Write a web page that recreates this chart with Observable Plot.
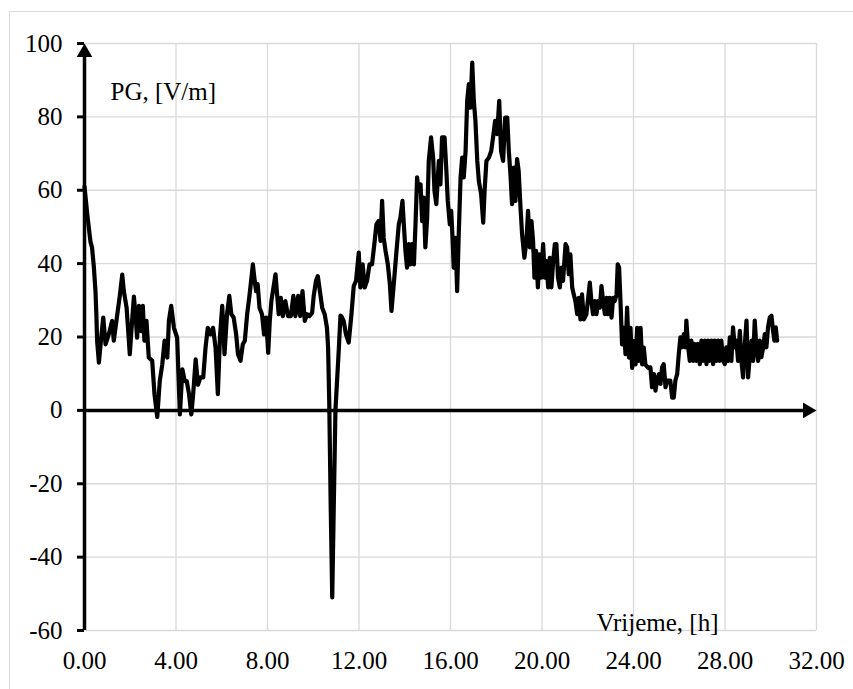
<!DOCTYPE html>
<html><head><meta charset="utf-8">
<script src="https://cdn.jsdelivr.net/npm/d3@7"></script>
<script src="https://cdn.jsdelivr.net/npm/@observablehq/plot@0.6"></script>
<style>
html,body{margin:0;padding:0;background:#fff;overflow:hidden}
#wrap{position:relative;width:853px;height:689px;overflow:hidden}
#frame{position:absolute;left:8.5px;top:10.5px;width:900px;height:800px;border:1px solid #d9d9d9;box-sizing:border-box}
#chart{position:absolute;left:0;top:0}
#chart svg text{font-family:"Liberation Serif","Times New Roman",serif}
</style></head><body>
<div id="wrap"><div id="frame"></div><div id="chart"></div></div>
<script>
const hours = [
0.00,0.12,0.26,0.33,0.41,0.48,0.52,0.55,0.63,0.73,0.82,0.92,1.06,1.21,1.28,1.43,1.55,1.65,1.72,1.84,
1.98,2.08,2.16,2.23,2.30,2.38,2.48,2.55,2.62,2.71,2.81,2.96,3.06,3.18,3.29,3.40,3.50,3.62,3.69,3.79,
3.91,4.05,4.17,4.28,4.38,4.47,4.57,4.67,4.75,4.86,4.96,5.07,5.19,5.29,5.39,5.51,5.62,5.73,5.83,5.92,
6.02,6.12,6.23,6.33,6.42,6.52,6.63,6.71,6.82,6.92,7.01,7.11,7.21,7.30,7.36,7.44,7.50,7.57,7.65,7.76,
7.85,7.94,8.03,8.10,8.17,8.26,8.35,8.42,8.49,8.58,8.67,8.78,8.90,9.02,9.13,9.22,9.34,9.43,9.53,9.63,
9.73,9.83,9.95,10.02,10.12,10.20,10.29,10.39,10.50,10.60,10.65,10.70,10.76,10.83,10.90,10.97,11.04,11.12,11.19,11.23,
11.33,11.43,11.55,11.67,11.77,11.87,11.99,12.06,12.16,12.25,12.35,12.46,12.57,12.67,12.76,12.86,12.94,13.01,13.08,13.16,
13.26,13.35,13.42,13.52,13.64,13.74,13.81,13.90,13.96,14.03,14.10,14.18,14.25,14.32,14.40,14.47,14.54,14.61,14.69,14.76,
14.83,14.90,14.98,15.05,15.15,15.24,15.30,15.38,15.49,15.56,15.63,15.74,15.82,15.88,15.97,16.03,16.09,16.14,16.22,16.29,
16.36,16.44,16.51,16.58,16.66,16.73,16.80,16.87,16.95,17.02,17.09,17.17,17.24,17.34,17.43,17.49,17.57,17.68,17.78,17.86,
17.95,18.04,18.13,18.21,18.30,18.39,18.48,18.55,18.62,18.69,18.77,18.84,18.91,18.98,19.06,19.13,19.23,19.32,19.39,19.47,
19.54,19.61,19.67,19.74,19.82,19.89,19.96,20.05,20.12,20.19,20.27,20.34,20.41,20.49,20.56,20.63,20.70,20.78,20.85,20.92,
21.03,21.10,21.17,21.24,21.32,21.39,21.46,21.54,21.61,21.68,21.75,21.83,21.94,22.02,22.09,22.16,22.23,22.31,22.38,22.45,
22.53,22.60,22.67,22.75,22.82,22.89,22.96,23.04,23.11,23.18,23.26,23.31,23.37,23.43,23.50,23.58,23.65,23.72,23.80,23.87,
23.94,24.01,24.09,24.16,24.23,24.31,24.38,24.45,24.52,24.63,24.74,24.81,24.89,24.96,25.03,25.11,25.18,25.25,25.32,25.40,
25.47,25.54,25.61,25.69,25.76,25.83,25.91,25.98,26.05,26.12,26.20,26.27,26.31,26.39,26.46,26.53,26.61,26.68,26.75,26.82,
26.90,26.97,27.04,27.12,27.19,27.26,27.33,27.41,27.48,27.55,27.63,27.70,27.77,27.84,27.92,27.99,28.06,28.14,28.21,28.28,
28.35,28.43,28.50,28.57,28.65,28.72,28.79,28.86,28.94,29.01,29.08,29.16,29.23,29.30,29.37,29.45,29.52,29.59,29.67,29.74,
29.81,29.88,29.96,30.03,30.10,30.16,30.22,30.28
];
const pg = [
61,53.5,46,44.4,39,32.5,26,19,13,19.8,25.3,18,20.7,24.4,19,26,31.6,37,32.5,28,
15.3,24.4,31,26,19.8,28.5,21.6,28.5,19,24.4,14.4,13.5,4.4,-1.8,8,12.5,19,14.4,24.4,28.5,
22.5,19.8,-1.1,11.2,8,8,4.4,-1.1,4.4,13.9,7,9,9,17,22.5,20.7,22.5,17,4.4,19.8,
28.5,15.3,26.2,31.2,26.2,25.3,20.7,15.3,13.5,18,19,26.2,31.2,36.2,39.8,35.3,32.5,34.4,28,26.2,
20.7,25.3,15.7,24.4,29.8,33.5,37.1,31.6,26.2,30.7,25.7,29.8,25.7,25.7,31.2,25.7,31.2,25.7,32.5,24.4,
26.2,25.7,26.6,31.2,35.3,36.6,32.5,28,26.2,22.5,17,2,-25,-51,-25,0,8,17,25.8,25.7,
24.4,20.7,18.5,26.2,33.9,35.3,43,33.5,39.8,33.5,35.3,39.8,39.8,45.3,50.7,51.6,46.2,57.1,47,43.5,
39.8,34.4,27.1,34.4,43.5,50.7,52.5,57.1,50.7,43.5,38.9,45.3,39.8,45.3,39.8,50.7,63.5,59.8,61.6,51.6,
58,44.4,52.5,68,74.4,68.9,59.8,56.2,68,61.6,74.4,74.4,65.3,57.1,50.7,54.4,47,38.9,47,32.5,
48,63.5,68.9,63.5,70.7,84.4,88.9,82.5,94.8,84.4,78.9,68,62.5,58.9,51.2,59.8,68,68.9,70.7,74.4,
78.9,75.3,84.4,70.7,68,79.8,79.8,70.7,64.4,56.2,66.2,57.1,68.5,65.3,55.3,48,41.6,46.2,54.4,44.4,
51.6,46.2,36.2,43.5,33.5,42.5,36.2,45.3,36.2,40.7,33.5,41.6,33.5,40.7,45.3,45.3,36.2,33.5,38.9,35.3,
45.3,44.4,37.1,42.5,33.5,31.6,29.8,26.2,30.7,24.8,31.6,24.8,26.2,30.7,34.8,29.8,26.2,29.8,26.2,29.8,
28,33.9,29.8,26.2,30.7,26.2,30.7,25.3,30.7,29.8,31.6,39.8,38.9,29.8,18,22.5,15.3,28,14.4,22.5,
11.6,18.9,12.5,22.5,13.5,22.5,12.5,17.1,12.5,11.6,11.7,6.3,9.9,5.4,8.1,9.9,7.2,11.7,12.6,6.3,
8.1,8.1,8.1,3.5,3.5,8.1,9.9,15.4,19.9,17.2,20.8,17.2,24.5,17.2,13.5,19,13.5,18.1,13.5,18.1,
12.6,19,13.5,19,12.6,19,13.5,19,12.6,19,13.5,19,13.5,19,13.5,12.6,17.2,13.5,19.9,13.5,
22.6,17.2,19,13.5,21.7,13.5,9,17.2,24.5,9,14.5,19,13.5,24.5,17.2,13.5,19,14.5,17.2,20.8,
17.2,22.6,25.4,25.8,21.7,19,22.6,19
];
const xTicks = [0, 4, 8, 12, 16, 20, 24, 28, 32];
const yTicks = [-60, -40, -20, 0, 20, 40, 60, 80, 100];
const xTitle = "Vrijeme, [h]";
const yTitle = "PG, [V/m]";

const data = hours.map((h, i) => ({h, v: pg[i]}));
const gridStyle = {stroke: "#d9d9d9", strokeOpacity: 1, strokeWidth: 1.3};
const serif = "Liberation Serif, Times New Roman, serif";

const chart = Plot.plot({
  width: 853, height: 689,
  marginLeft: 84, marginRight: 37, marginTop: 43, marginBottom: 59,
  style: {fontFamily: serif, fontSize: "25px", color: "#000", background: "transparent"},
  x: {domain: [0, 32]},
  y: {domain: [-60, 100]},
  marks: [
    Plot.gridX(xTicks, gridStyle),
    Plot.gridY(yTicks, gridStyle),
    Plot.axisY(yTicks, {tickSize: 7, tickPadding: 15, strokeWidth: 3, tickFormat: d => String(d), label: null, fontFamily: serif}),
    Plot.axisX(xTicks, {tickSize: 0, tickPadding: 21, tickFormat: d3.format(".2f"), label: null, fontFamily: serif}),
    Plot.line(data, {x: "h", y: "v", stroke: "#000", strokeWidth: 4.2, strokeLinejoin: "round", strokeLinecap: "round"}),
    Plot.ruleY([0], {x1: 0, x2: 31.5, stroke: "#000", strokeWidth: 3.5}),
    Plot.ruleX([0], {y1: -60, y2: 98, stroke: "#000", strokeWidth: 3.5}),
    Plot.dot([{x: 0, y: 100}], {x: "x", y: "y", symbol: "triangle", r: 5.8, fill: "#000", stroke: "none", dy: 9}),
    Plot.dot([{x: 32, y: 0}], {x: "x", y: "y", symbol: "triangle", r: 5.8, fill: "#000", stroke: "none", rotate: 90, dx: -9}),
    Plot.text([yTitle], {frameAnchor: "top-left", textAnchor: "start", lineAnchor: "top", dx: 26, dy: 39, fill: "#000", fontFamily: serif}),
    Plot.text([xTitle], {frameAnchor: "bottom-right", textAnchor: "end", lineAnchor: "bottom", dx: -98, dy: 0, fill: "#000", fontFamily: serif})
  ]
});
document.getElementById("chart").appendChild(chart);
</script>
</body></html>
